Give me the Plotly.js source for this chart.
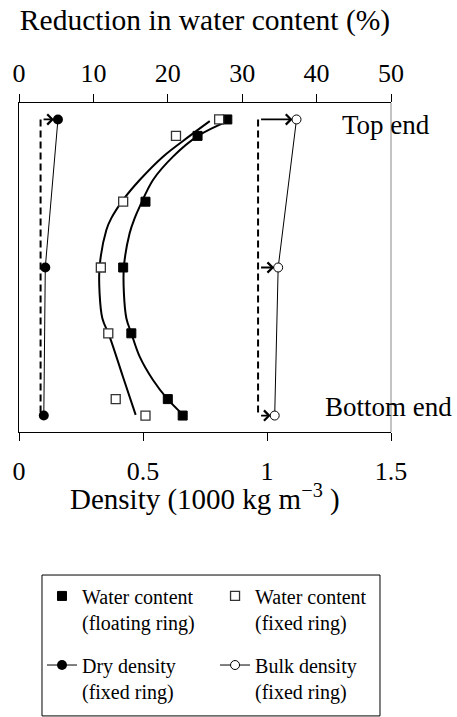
<!DOCTYPE html>
<html>
<head>
<meta charset="utf-8">
<script src="https://cdn.plot.ly/plotly-3.0.1.min.js"></script>
<style>html,body{margin:0;padding:0;background:#fff;}#chart{width:457px;height:717px;}</style>
</head>
<body>
<div id="chart"></div>
<script>
// Vertical position in the sample (0 = top end, 100 = bottom end)
const positions = [5, 10, 30, 50, 70, 90, 95];
// Reduction in water content (%)
const wcFloating = [28.0, 24.0, 17.0, 14.0, 15.1, 20.0, 22.0];
const wcFixed = [26.9, 21.1, 14.0, 11.0, 12.0, 13.0, 17.0];
// Densities (1000 kg m^-3)
const densityPositions = [5, 50, 95];
const dryDensity = [0.157, 0.106, 0.100];
const bulkDensity = [1.119, 1.045, 1.031];
const initialDryDensity = 0.087;
const initialBulkDensity = 0.964;
const initialSpan = [5, 95];
// Fitted curves
const fitFloatingPos = [5.5, 10, 16.3, 23.4, 31.5, 35, 39.6, 49.8, 57.8, 65.4, 70, 77.1, 84.2, 89.8, 94.8];
const fitFloatingWc = [28.06, 24.06, 20.7, 18.01, 16.22, 15.55, 14.87, 14.1, 14.1, 14.43, 15.1, 16.22, 18.01, 19.89, 22.05];
const fitFixedPos = [5.5, 10, 16.3, 23.4, 29.5, 35, 38.6, 49.8, 57.8, 65.4, 71, 83.2, 94.8];
const fitFixedWc = [25.64, 22.95, 19.35, 16.22, 13.97, 12.41, 11.74, 10.83, 10.83, 11.2, 12.18, 13.97, 15.68];
// Tick labels
const densityTicks = [0, 0.5, 1, 1.5];
const densityTickText = ['0', '0.5', '1', '1.5'];
const wcTicks = [0, 10, 20, 30, 40, 50];

const FONT = 'Liberation Serif';
function f(size) { return {family: FONT, size: size, color: '#000'}; }

const traces = [
  {x: fitFloatingWc, y: fitFloatingPos, xaxis: 'x2', yaxis: 'y', mode: 'lines',
   line: {color: '#000', width: 2, shape: 'spline'}, showlegend: false, hoverinfo: 'skip'},
  {x: fitFixedWc, y: fitFixedPos, xaxis: 'x2', yaxis: 'y', mode: 'lines',
   line: {color: '#000', width: 2, shape: 'spline'}, showlegend: false, hoverinfo: 'skip'},
  {x: [initialDryDensity, initialDryDensity], y: initialSpan, mode: 'lines',
   line: {color: '#000', width: 2, dash: '7px,4px'}, showlegend: false, hoverinfo: 'skip'},
  {x: [initialBulkDensity, initialBulkDensity], y: initialSpan, mode: 'lines',
   line: {color: '#000', width: 2, dash: '7px,4px'}, showlegend: false, hoverinfo: 'skip'},
  {x: wcFloating, y: positions, xaxis: 'x2', yaxis: 'y', mode: 'markers',
   name: 'Water content<br>(floating ring)', legend: 'legend',
   marker: {symbol: 'square', size: 9, color: '#000', line: {color: '#000', width: 1}}},
  {x: wcFixed, y: positions, xaxis: 'x2', yaxis: 'y', mode: 'markers',
   name: 'Water content<br>(fixed ring)', legend: 'legend2',
   marker: {symbol: 'square', size: 9, color: '#fff', line: {color: '#333', width: 1.3}}},
  {x: dryDensity, y: densityPositions, mode: 'lines+markers',
   name: 'Dry density<br>(fixed ring)', legend: 'legend3',
   line: {color: '#000', width: 1}, marker: {symbol: 'circle', size: 10, color: '#000'}},
  {x: bulkDensity, y: densityPositions, mode: 'lines+markers',
   name: 'Bulk density<br>(fixed ring)', legend: 'legend4',
   line: {color: '#000', width: 1}, marker: {symbol: 'circle', size: 9, color: '#fff', line: {color: '#000', width: 1}}}
];

const annotations = [];
function arrow(x0, x1, y) {
  annotations.push({x: x1, y: y, ax: x0, ay: y, xref: 'x', yref: 'y', axref: 'x', ayref: 'y',
    text: ' ', showarrow: true, arrowhead: 4, arrowsize: 1.1, arrowwidth: 1.8, arrowcolor: '#000', standoff: 4});
}
arrow(initialDryDensity, dryDensity[0], densityPositions[0]);
bulkDensity.forEach((v, i) => arrow(initialBulkDensity, v, densityPositions[i]));
annotations.push({text: 'Top end', xref: 'paper', yref: 'paper', x: 0.987, y: 0.933,
  xanchor: 'center', yanchor: 'middle', showarrow: false, font: f(27)});
annotations.push({text: 'Bottom end', xref: 'paper', yref: 'paper', x: 0.993, y: 0.076,
  xanchor: 'center', yanchor: 'middle', showarrow: false, font: f(27)});
annotations.push({text: 'Density (1000 kg m<sup>−3</sup> )', xref: 'paper', yref: 'paper', x: 0.5, y: -0.2,
  xanchor: 'center', yanchor: 'middle', showarrow: false, font: f(29)});

function leg(x, y) {
  return {font: f(20), bgcolor: 'rgba(0,0,0,0)', borderwidth: 0, xanchor: 'left', yanchor: 'top', valign: 'top', x: x, y: y};
}
const layout = {
  width: 457, height: 717,
  margin: {l: 19, r: 66, t: 103, b: 285, pad: 0, autoexpand: false},
  paper_bgcolor: '#fff', plot_bgcolor: '#fff',
  xaxis: {range: [0, 1.5], tickvals: densityTicks, ticktext: densityTickText, ticks: 'outside', ticklen: 8,
    tickwidth: 1, tickcolor: '#000', showline: true, linecolor: '#000', linewidth: 1, showgrid: false, zeroline: false,
    ticklabelstandoff: 8, tickfont: f(26), automargin: false},
  xaxis2: {range: [0, 50], tickvals: wcTicks, overlaying: 'x', side: 'top', anchor: 'y', ticks: 'outside', ticklen: 8,
    tickwidth: 1, tickcolor: '#000', showline: true, linecolor: '#000', linewidth: 1, showgrid: false, zeroline: false,
    ticklabelstandoff: 2, tickfont: f(26), automargin: false,
    title: {text: 'Reduction in water content (%)', font: f(29.5), standoff: 19}},
  yaxis: {range: [100, 0], showticklabels: false, ticks: '', showline: true, linecolor: '#000', linewidth: 1,
    showgrid: false, zeroline: false},
  shapes: [
    {type: 'line', xref: 'paper', yref: 'paper', x0: 1, x1: 1, y0: 0, y1: 1, line: {color: '#888', width: 1}},
    {type: 'rect', xref: 'paper', yref: 'paper', x0: 0.0618, x1: 0.9704, y0: -0.863, y1: -0.4347,
     line: {color: '#000', width: 1}, fillcolor: 'rgba(0,0,0,0)'}
  ],
  annotations: annotations,
  legend: leg(0.0618, -0.439),
  legend2: leg(0.527, -0.439),
  legend3: leg(0.0618, -0.649),
  legend4: leg(0.527, -0.649),
  showlegend: true
};
Plotly.newPlot('chart', traces, layout, {displayModeBar: false, staticPlot: true});
</script>
</body>
</html>
